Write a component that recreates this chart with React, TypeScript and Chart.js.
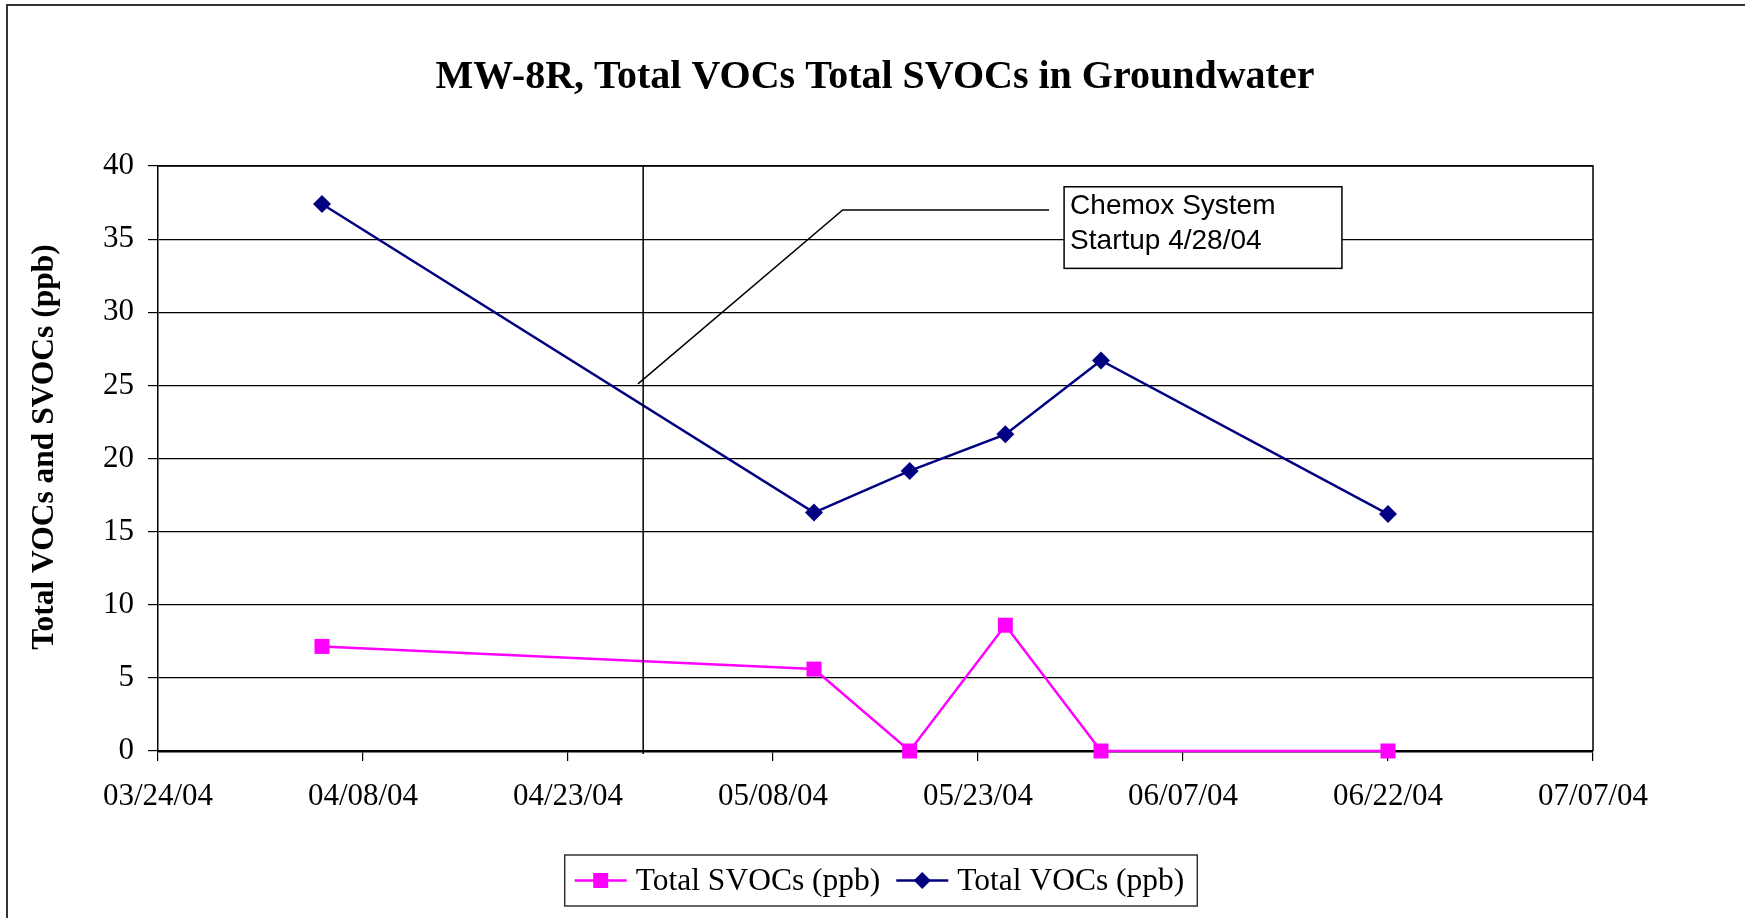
import React, { useEffect, useRef } from 'react';
import { Chart, registerables } from 'chart.js';

Chart.register(...registerables);

// ---------------- data ----------------
const CHART_TITLE = 'MW-8R, Total VOCs Total SVOCs in Groundwater';
const Y_AXIS_TITLE = 'Total VOCs and SVOCs (ppb)';
const X_START_DATE = '03/24/04';
const X_END_DATE = '07/07/04';
const X_TICK_STEP_DAYS = 15;
const Y_MIN = 0;
const Y_MAX = 40;
const Y_STEP = 5;

const SAMPLE_DATES = ['04/05/04', '05/11/04', '05/18/04', '05/25/04', '06/01/04', '06/22/04'];
const SVOCS = [7.15, 5.6, 0, 8.6, 0, 0];
const VOCS = [37.4, 16.3, 19.15, 21.65, 26.7, 16.2];
const SERIES_LABELS = ['Total SVOCs (ppb)', 'Total VOCs (ppb)'];

const STARTUP_DATE = '04/28/04';
const NOTE_LINES = ['Chemox System', 'Startup 4/28/04'];

// ---------------- helpers ----------------
const DAY_MS = 86400000;
function parseDate(s: string): number {
  const [mm, dd, yy] = s.split('/').map(Number);
  return Date.UTC(2000 + yy, mm - 1, dd);
}
const T0 = parseDate(X_START_DATE);
const dayOf = (s: string) => (parseDate(s) - T0) / DAY_MS;
const X_MAX = dayOf(X_END_DATE);
const pad2 = (n: number) => (n < 10 ? '0' : '') + n;
function fmtDay(v: number): string {
  const d = new Date(T0 + Math.round(v) * DAY_MS);
  return pad2(d.getUTCMonth() + 1) + '/' + pad2(d.getUTCDate()) + '/' + pad2(d.getUTCFullYear() % 100);
}

const SERIF = '"Liberation Serif", "Times New Roman", serif';
const SANS = '"Liberation Sans", Arial, sans-serif';
const MAGENTA = '#FF00FF';
const NAVY = '#000080';

const svocData = SAMPLE_DATES.map((d, i) => ({ x: dayOf(d), y: SVOCS[i] }));
const vocData = SAMPLE_DATES.map((d, i) => ({ x: dayOf(d), y: VOCS[i] }));

function drawMarker(ctx: CanvasRenderingContext2D, kind: string, x: number, y: number, color: string) {
  ctx.save();
  ctx.fillStyle = color;
  ctx.beginPath();
  if (kind === 'rect') {
    const s = 7.5;
    ctx.rect(x - s, y - s, 2 * s, 2 * s);
  } else {
    const r = 8.5;
    ctx.moveTo(x, y - r);
    ctx.lineTo(x + r, y);
    ctx.lineTo(x, y + r);
    ctx.lineTo(x - r, y);
    ctx.closePath();
  }
  ctx.fill();
  ctx.restore();
}

const decorPlugin = {
  id: 'decor',
  afterDraw(chart: any) {
    const ctx: CanvasRenderingContext2D = chart.ctx;
    const { left, right, top, bottom } = chart.chartArea;
    const xs = chart.scales.x;
    const ys = chart.scales.y;
    ctx.save();

    // outer chart frame (top + left visible)
    ctx.strokeStyle = '#333';
    ctx.lineWidth = 2;
    ctx.beginPath();
    ctx.moveTo(7, 1000);
    ctx.lineTo(7, 5);
    ctx.lineTo(1800, 5);
    ctx.stroke();

    // plot-area right/top border
    ctx.strokeStyle = '#000';
    ctx.lineWidth = 1.5;
    ctx.beginPath();
    ctx.moveTo(left, top);
    ctx.lineTo(right, top);
    ctx.lineTo(right, bottom);
    ctx.stroke();

    // title
    ctx.fillStyle = '#000';
    ctx.font = 'bold 40px ' + SERIF;
    ctx.textAlign = 'center';
    ctx.textBaseline = 'alphabetic';
    ctx.fillText(CHART_TITLE, 875, 88);

    // y axis title
    ctx.save();
    ctx.translate(53, 447);
    ctx.rotate(-Math.PI / 2);
    ctx.font = 'bold 31.5px ' + SERIF;
    ctx.textAlign = 'center';
    ctx.textBaseline = 'alphabetic';
    ctx.fillText(Y_AXIS_TITLE, 0, 0);
    ctx.restore();

    // startup vertical line
    const sx = xs.getPixelForValue(dayOf(STARTUP_DATE) + 0.5);
    ctx.strokeStyle = '#000';
    ctx.lineWidth = 1.5;
    ctx.beginPath();
    ctx.moveTo(sx, top);
    ctx.lineTo(sx, bottom + 3);
    ctx.stroke();

    // leader line
    ctx.lineWidth = 1.5;
    ctx.beginPath();
    ctx.moveTo(xs.getPixelForValue(35.12), ys.getPixelForValue(25.1));
    ctx.lineTo(xs.getPixelForValue(50.1), ys.getPixelForValue(37));
    ctx.lineTo(xs.getPixelForValue(65.2), ys.getPixelForValue(37));
    ctx.stroke();

    // note box
    const bx0 = xs.getPixelForValue(66.3);
    const bx1 = xs.getPixelForValue(86.63);
    const by0 = ys.getPixelForValue(38.58);
    const by1 = ys.getPixelForValue(33.0);
    ctx.fillStyle = '#fff';
    ctx.fillRect(bx0, by0, bx1 - bx0, by1 - by0);
    ctx.strokeStyle = '#000';
    ctx.lineWidth = 1.5;
    ctx.strokeRect(bx0, by0, bx1 - bx0, by1 - by0);
    ctx.fillStyle = '#000';
    ctx.font = '28px ' + SANS;
    ctx.textAlign = 'left';
    ctx.textBaseline = 'alphabetic';
    ctx.fillText(NOTE_LINES[0], bx0 + 6, by0 + 27);
    ctx.fillText(NOTE_LINES[1], bx0 + 6, by0 + 62);

    // legend
    ctx.font = '31.5px ' + SERIF;
    const items = [
      { label: SERIES_LABELS[0], color: MAGENTA, kind: 'rect' },
      { label: SERIES_LABELS[1], color: NAVY, kind: 'diamond' },
    ];
    const lineLen = 52, gap = 9, itemGap = 16, padL = 10, padR = 13;
    const widths = items.map((it) => ctx.measureText(it.label).width);
    const total = padL + padR + items.length * (lineLen + gap) + widths.reduce((a, b) => a + b, 0) + itemGap * (items.length - 1);
    const lx0 = 881 - total / 2;
    const ly0 = 855, ly1 = 906;
    const lcy = (ly0 + ly1) / 2;
    ctx.fillStyle = '#fff';
    ctx.fillRect(lx0, ly0, total, ly1 - ly0);
    ctx.strokeStyle = '#333';
    ctx.lineWidth = 1.5;
    ctx.strokeRect(lx0, ly0, total, ly1 - ly0);
    let cx = lx0 + padL;
    items.forEach((it, i) => {
      ctx.strokeStyle = it.color;
      ctx.lineWidth = 2.5;
      ctx.beginPath();
      ctx.moveTo(cx, lcy);
      ctx.lineTo(cx + lineLen, lcy);
      ctx.stroke();
      drawMarker(ctx, it.kind, cx + lineLen / 2, lcy, it.color);
      cx += lineLen + gap;
      ctx.fillStyle = '#000';
      ctx.textAlign = 'left';
      ctx.textBaseline = 'middle';
      ctx.fillText(it.label, cx, lcy + 1);
      cx += widths[i] + itemGap;
    });

    ctx.restore();
  },
};

export default function App() {
  const ref = useRef<HTMLCanvasElement>(null);
  useEffect(() => {
    const canvas = ref.current;
    if (!canvas) return;
    const chart = new Chart(canvas, {
      type: 'line',
      data: {
        datasets: [
          {
            label: SERIES_LABELS[0],
            data: svocData,
            borderColor: MAGENTA,
            backgroundColor: MAGENTA,
            borderWidth: 2.5,
            pointStyle: 'rect',
            pointRadius: 10.6,
            pointBorderWidth: 0,
            pointBackgroundColor: MAGENTA,
            tension: 0,
            clip: false,
          },
          {
            label: SERIES_LABELS[1],
            data: vocData,
            borderColor: NAVY,
            backgroundColor: NAVY,
            borderWidth: 2.5,
            pointStyle: 'rectRot',
            pointRadius: 9,
            pointBorderWidth: 0,
            pointBackgroundColor: NAVY,
            tension: 0,
            clip: false,
          },
        ],
      },
      options: {
        animation: false,
        responsive: false,
        events: [],
        layout: { padding: { top: 166, right: 152, left: 0, bottom: 0 } },
        plugins: {
          legend: { display: false },
          title: { display: false },
          tooltip: { enabled: false },
        },
        scales: {
          x: {
            type: 'linear',
            min: 0,
            max: X_MAX,
            afterFit: (s: any) => {
              s.height = 167;
            },
            ticks: {
              stepSize: X_TICK_STEP_DAYS,
              callback: (v: any) => fmtDay(Number(v)),
              font: { family: SERIF, size: 31 },
              color: '#000',
              padding: 17,
              maxRotation: 0,
              autoSkip: false,
            },
            grid: { drawOnChartArea: false, drawTicks: true, tickLength: 10, color: '#000', lineWidth: 1.2 },
            border: { display: true, color: '#000', width: 2.5 },
          },
          y: {
            min: Y_MIN,
            max: Y_MAX,
            afterFit: (s: any) => {
              s.width = 158;
            },
            ticks: {
              stepSize: Y_STEP,
              font: { family: SERIF, size: 31 },
              color: '#000',
              padding: 14,
            },
            grid: { color: '#000', lineWidth: 1.2, tickLength: 10 },
            border: { display: true, color: '#000', width: 1.5 },
          },
        },
      } as any,
      plugins: [decorPlugin],
    });
    return () => chart.destroy();
  }, []);
  return (
    <div style={{ position: 'fixed', left: 0, top: 0, width: 1745, height: 918, background: '#fff', overflow: 'hidden' }}>
      <canvas ref={ref} width={1745} height={918} style={{ display: 'block', width: 1745, height: 918 }} />
    </div>
  );
}
